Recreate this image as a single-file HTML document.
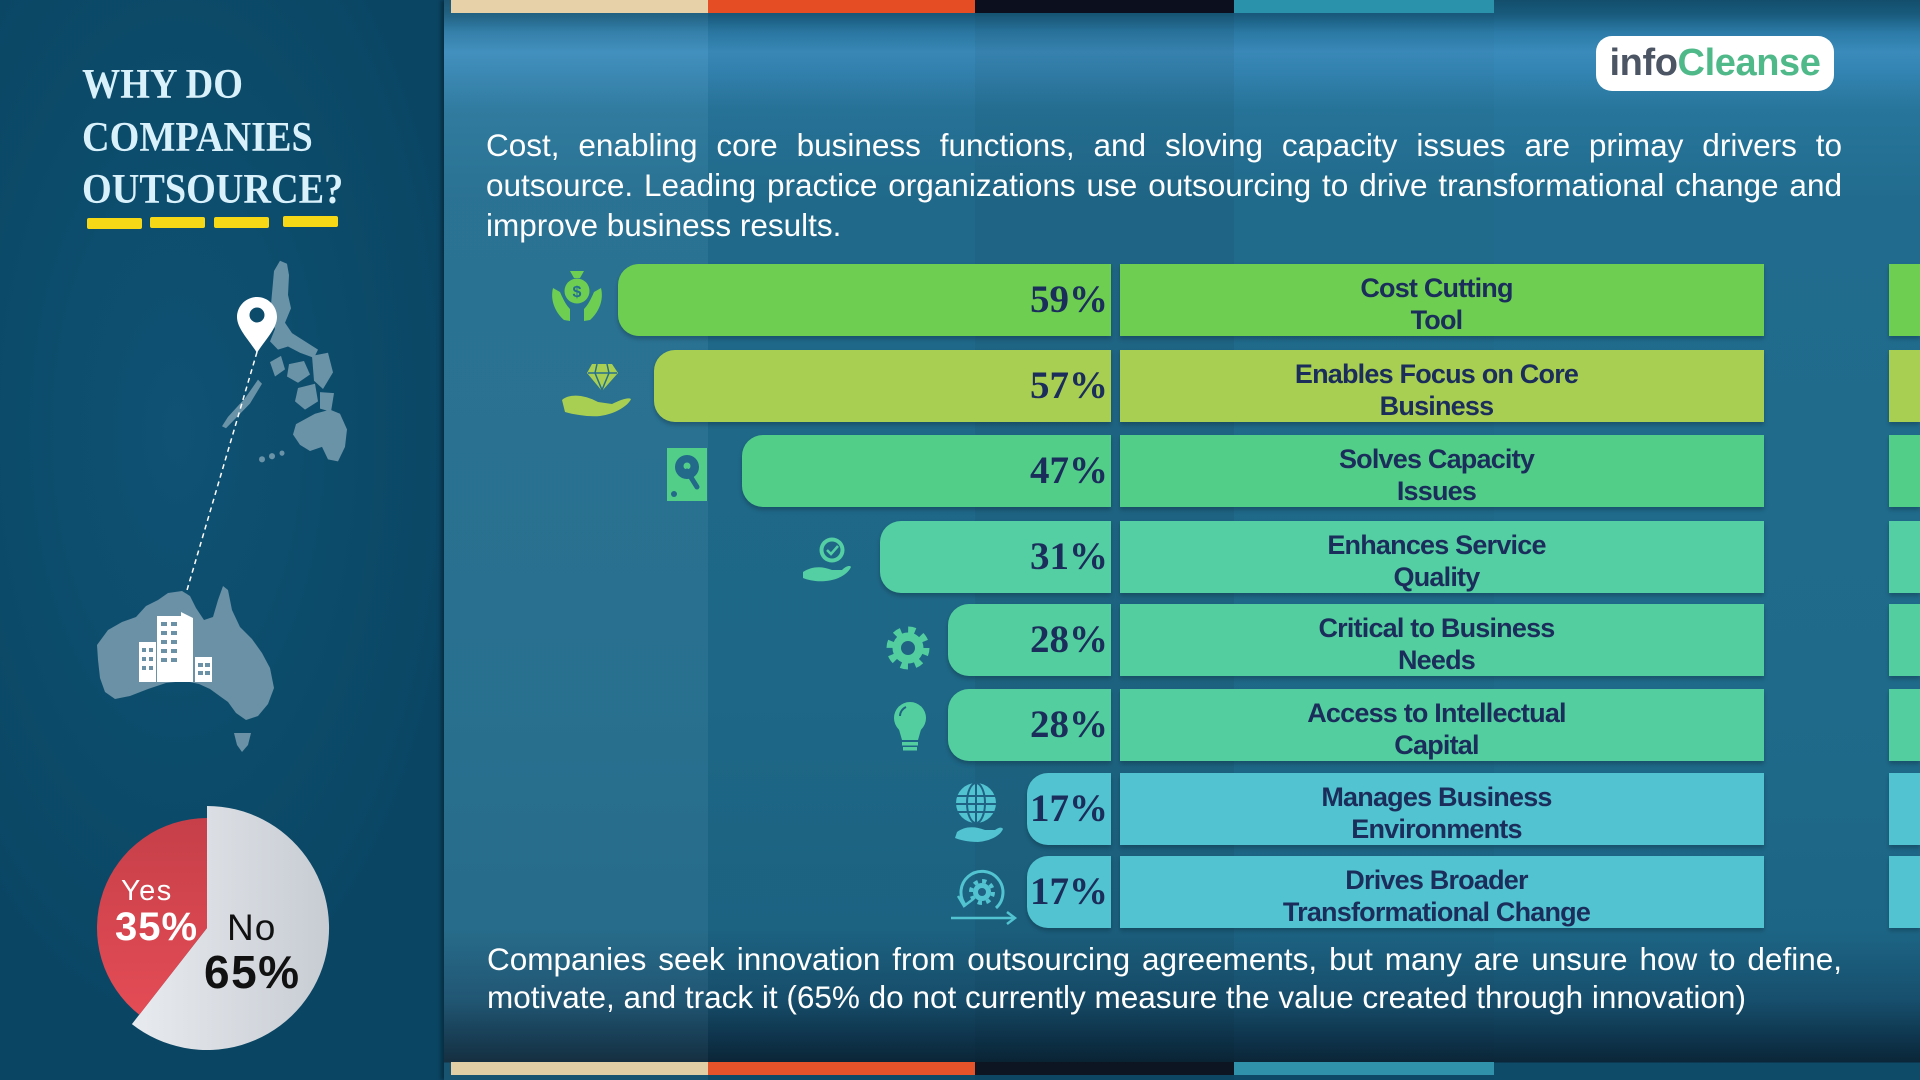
<!DOCTYPE html>
<html><head><meta charset="utf-8">
<style>
*{margin:0;padding:0;box-sizing:border-box}
html,body{width:1920px;height:1080px;overflow:hidden;background:#0c4a69}
body{position:relative;font-family:"Liberation Sans",sans-serif}
#left{position:absolute;left:0;top:0;width:444px;height:1080px;
 background:radial-gradient(ellipse 70% 60% at 40% 40%,#0f5274 0%,#0c4b6a 55%,#0a4563 100%);}
#main{position:absolute;left:444px;top:0;width:1476px;height:1080px;
 background:
 linear-gradient(to right,rgba(255,255,255,0.045) 0 264px,rgba(0,0,0,0.03) 264px 531px,rgba(0,0,0,0.07) 531px 790px,rgba(0,0,0,0.02) 790px 1050px,rgba(0,0,0,0) 1050px),
 linear-gradient(to bottom,#134e6c 0px,#185a7c 14px,#2b7aa6 32px,#3a8bbb 52px,#3384b2 72px,#27759b 110px,#216c8e 200px,#1f6a8a 700px,#1d6585 930px,#174f6d 1000px,#0e354d 1038px,#0b2638 1062px,#0e4b69 1063px,#0e4b69 1080px);
 box-shadow:-3px 0 4px rgba(0,0,0,0.35);}
.st{position:absolute;height:13px}
.title{position:absolute;left:82px;font-family:"Liberation Serif",serif;font-weight:bold;font-size:42px;color:#d9f1fb;line-height:42px;white-space:nowrap;transform:scaleX(0.91);transform-origin:left top}
.dash{position:absolute;height:11px;width:55px;background:#f6d817;border-radius:2px}
.para{position:absolute;color:#fff;font-size:31.5px;white-space:nowrap}
.jl{text-align:justify;text-align-last:justify}
.vb{position:absolute;height:72px;border-radius:21px 0 0 21px;box-shadow:0 3px 4px rgba(0,0,0,0.22)}
.pct{position:absolute;height:72px;line-height:72px;text-align:right;font-family:"Liberation Serif",serif;font-weight:bold;font-size:39px;color:#1b2d5b;white-space:nowrap}
.lb{position:absolute;left:1120px;width:644px;height:72px;box-shadow:0 3px 4px rgba(0,0,0,0.22);text-align:center;padding-top:8px;padding-right:11px;font-weight:bold;font-size:27px;line-height:32px;letter-spacing:-0.8px;color:#1b2d5b;white-space:nowrap}
.rs{position:absolute;left:1889px;width:31px;height:72px;box-shadow:0 3px 4px rgba(0,0,0,0.22)}
.logo{position:absolute;left:1596px;top:36px;width:238px;height:55px;background:#fff;border-radius:16px;text-align:center;font-weight:bold;font-size:38px;line-height:55px;letter-spacing:-0.4px}
</style></head><body>
<div id="left"></div>
<div id="main"></div>

<div class="st" style="left:451px;top:0;width:257px;background:#e6d1a8"></div>
<div class="st" style="left:708px;top:0;width:267px;background:#e54d24"></div>
<div class="st" style="left:975px;top:0;width:259px;background:#0b0f1e"></div>
<div class="st" style="left:1234px;top:0;width:260px;background:#2a93ab"></div>
<div class="st" style="left:451px;top:1062px;width:257px;background:#e3cfa5"></div>
<div class="st" style="left:708px;top:1062px;width:267px;background:#e4532a"></div>
<div class="st" style="left:975px;top:1062px;width:259px;background:#0d1422"></div>
<div class="st" style="left:1234px;top:1062px;width:260px;background:#3093ab"></div>

<div class="title" style="top:64px">WHY DO</div>
<div class="title" style="top:117px">COMPANIES</div>
<div class="title" style="top:169px">OUTSOURCE?</div>
<div class="dash" style="left:87px;top:218px"></div>
<div class="dash" style="left:150px;top:217px"></div>
<div class="dash" style="left:214px;top:217px"></div>
<div class="dash" style="left:283px;top:216px"></div>

<div class="logo"><span style="color:#4b5563">info</span><span style="color:#50b98a">Cleanse</span></div>

<div class="para jl" style="left:486px;top:125px;width:1356px;line-height:40px">Cost, enabling core business functions, and sloving capacity issues are primay drivers to</div>
<div class="para jl" style="left:486px;top:165px;width:1356px;line-height:40px">outsource. Leading practice organizations use outsourcing to drive transformational change and</div>
<div class="para" style="left:486px;top:205px;line-height:40px">improve business results.</div>

<div class="para jl" style="left:487px;top:940px;width:1355px;line-height:38px">Companies seek innovation from outsourcing agreements, but many are unsure how to define,</div>
<div class="para" style="left:487px;top:978px;line-height:38px">motivate, and track it (65% do not currently measure the value created through innovation)</div>

<div class="vb" style="left:618px;top:264px;width:493px;background:#6dce52"></div>
<div class="pct" style="left:618px;top:264px;width:490px">59%</div>
<div class="lb" style="top:264px;background:#6dce52">Cost Cutting<br>Tool</div>
<div class="rs" style="top:264px;background:#6dce52"></div>

<div class="vb" style="left:654px;top:350px;width:457px;background:#a9cf52"></div>
<div class="pct" style="left:654px;top:350px;width:454px">57%</div>
<div class="lb" style="top:350px;background:#a9cf52">Enables Focus on Core<br>Business</div>
<div class="rs" style="top:350px;background:#a9cf52"></div>

<div class="vb" style="left:742px;top:435px;width:369px;background:#52ce89"></div>
<div class="pct" style="left:742px;top:435px;width:366px">47%</div>
<div class="lb" style="top:435px;background:#52ce89">Solves Capacity<br>Issues</div>
<div class="rs" style="top:435px;background:#52ce89"></div>

<div class="vb" style="left:880px;top:521px;width:231px;background:#54cfa3"></div>
<div class="pct" style="left:880px;top:521px;width:228px">31%</div>
<div class="lb" style="top:521px;background:#54cfa3">Enhances Service<br>Quality</div>
<div class="rs" style="top:521px;background:#54cfa3"></div>

<div class="vb" style="left:948px;top:604px;width:163px;background:#53cf9f"></div>
<div class="pct" style="left:948px;top:604px;width:160px">28%</div>
<div class="lb" style="top:604px;background:#53cf9f">Critical to Business<br>Needs</div>
<div class="rs" style="top:604px;background:#53cf9f"></div>

<div class="vb" style="left:948px;top:689px;width:163px;background:#53cf9f"></div>
<div class="pct" style="left:948px;top:689px;width:160px">28%</div>
<div class="lb" style="top:689px;background:#53cf9f">Access to Intellectual<br>Capital</div>
<div class="rs" style="top:689px;background:#53cf9f"></div>

<div class="vb" style="left:1027px;top:773px;width:84px;background:#52c3d0"></div>
<div class="pct" style="left:1027px;top:773px;width:81px">17%</div>
<div class="lb" style="top:773px;background:#52c3d0">Manages Business<br>Environments</div>
<div class="rs" style="top:773px;background:#52c3d0"></div>

<div class="vb" style="left:1027px;top:856px;width:84px;background:#52c3d0"></div>
<div class="pct" style="left:1027px;top:856px;width:81px">17%</div>
<div class="lb" style="top:856px;background:#52c3d0">Drives Broader<br>Transformational Change</div>
<div class="rs" style="top:856px;background:#52c3d0"></div>

<svg width="1920" height="1080" viewBox="0 0 1920 1080" style="position:absolute;left:0;top:0" xmlns="http://www.w3.org/2000/svg">
<defs>
<linearGradient id="gr" x1="0" y1="0" x2="0" y2="1"><stop offset="0" stop-color="#c63f49"/><stop offset="1" stop-color="#e44c55"/></linearGradient>
<linearGradient id="gg" x1="0" y1="0" x2="1" y2="0"><stop offset="0" stop-color="#e8ebef"/><stop offset="1" stop-color="#c7ccd3"/></linearGradient>
</defs>
<g fill="#6b93a8" transform="matrix(1 0 0 1.0345 0 0)">
<path d="M274,262 L280,252 L287,255 L289,266 L288,285 L291,298 L285,312 L292,322 L305,330 L318,338 L314,346 L300,341 L288,335 L278,338 L270,330 L275,318 L270,305 Z"/>
<path d="M270,350 L281,344 L285,357 L275,364 Z"/>
<path d="M289,352 L304,349 L310,362 L298,370 L287,364 Z"/>
<path d="M312,344 L328,341 L333,360 L323,376 L314,368 Z"/>
<path d="M298,375 L315,371 L318,388 L305,396 L295,388 Z"/>
<path d="M320,379 L334,380 L331,398 L320,395 Z"/>
<path d="M296,410 L315,400 L330,396 L340,400 L347,415 L345,432 L338,446 L328,444 L322,432 L310,436 L300,430 L293,420 Z"/>
<path d="M222,412 L228,403 L245,385 L258,367 L262,371 L250,390 L235,405 L226,414 Z"/>
<circle cx="262" cy="444" r="3"/><circle cx="272" cy="441" r="3"/><circle cx="282" cy="438" r="2.5"/>
</g>
<line x1="257" y1="352" x2="180" y2="614" stroke="#ffffff" stroke-width="1.5" stroke-dasharray="5 4"/>
<path d="M257,353 C250,341 237,329 237,317 C237,306 246,297 257,297 C268,297 277,306 277,317 C277,329 264,341 257,353 Z" fill="#ffffff"/>
<circle cx="257" cy="315" r="7.5" fill="#0c4b6a"/>
<g fill="#6a91a6">
<path d="M97,645 L108,630 L122,622 L136,617 L146,606 L158,600 L168,593 L182,591 L190,596 L196,608 L204,620 L213,617 L218,600 L223,586 L228,590 L232,610 L240,627 L252,639 L262,653 L270,668 L274,688 L268,704 L258,716 L246,720 L236,713 L228,702 L221,697 L210,689 L199,684 L185,681 L166,683 L148,689 L130,696 L115,699 L105,692 L100,678 L98,660 Z"/>
<path d="M234,733 L251,733 L248,745 L242,752 L237,745 Z"/>
</g>
<g fill="#ffffff">
<rect x="157" y="616" width="24" height="66"/>
<path d="M181,612 L193,618 L193,682 L181,682 Z"/>
<rect x="139" y="642" width="17" height="40"/>
<rect x="195" y="657" width="17" height="25"/>
</g>
<g fill="#6a91a6">
<rect x="161" y="622" width="6" height="4"/><rect x="171" y="622" width="6" height="4"/>
<rect x="161" y="631" width="6" height="4"/><rect x="171" y="631" width="6" height="4"/>
<rect x="161" y="640" width="6" height="4"/><rect x="171" y="640" width="6" height="4"/>
<rect x="161" y="649" width="6" height="4"/><rect x="171" y="649" width="6" height="4"/>
<rect x="161" y="658" width="6" height="4"/><rect x="171" y="658" width="6" height="4"/>
<rect x="142" y="648" width="4" height="4"/><rect x="149" y="648" width="4" height="4"/>
<rect x="142" y="657" width="4" height="4"/><rect x="149" y="657" width="4" height="4"/>
<rect x="142" y="666" width="4" height="4"/><rect x="149" y="666" width="4" height="4"/>
<rect x="198" y="663" width="5" height="4"/><rect x="205" y="663" width="5" height="4"/>
<rect x="198" y="671" width="5" height="4"/><rect x="205" y="671" width="5" height="4"/>
</g>
<path d="M207,928 L207,806 A122,122 0 1 1 131.9,1024.1 Z" fill="url(#gg)"/>
<path d="M207,928 L139.3,1014.7 A110,110 0 0 1 207,818 Z" fill="url(#gr)"/>
<text x="121" y="900" font-family="Liberation Sans, sans-serif" font-size="29" fill="#ffffff" letter-spacing="1.5">Yes</text>
<text x="115" y="940" font-family="Liberation Sans, sans-serif" font-size="40" font-weight="bold" fill="#ffffff" letter-spacing="1">35%</text>
<text x="227" y="940" font-family="Liberation Sans, sans-serif" font-size="37" fill="#111111" letter-spacing="1">No</text>
<text x="204" y="988" font-family="Liberation Sans, sans-serif" font-size="46" font-weight="bold" fill="#111111" letter-spacing="1.5">65%</text>

<g fill="#6dce52">
<path d="M570,271 L584,271 L580,278 L574,278 Z"/>
<circle cx="577" cy="291" r="12.5"/>
<path d="M553,288 C550,300 555,312 564,320 L570,321 L570,309 C566,305 563,299 560,292 Z"/>
<path d="M601,288 C604,300 599,312 590,320 L584,321 L584,309 C588,305 591,299 594,292 Z"/>
</g>
<text x="577" y="297" text-anchor="middle" font-family="Liberation Sans, sans-serif" font-size="16" font-weight="bold" fill="#256f8e">$</text>
<g fill="#a9cf52">
<polygon points="592,364 612,364 618,373 602,391 587,373"/>
<path d="M562,400 C570,393 585,395 598,402 L612,404 C620,400 628,397 631,399 C628,406 615,414 600,416 C590,417 575,415 565,412 Z"/>
</g>
<g stroke="#256f8e" stroke-width="1.5" fill="none"><polyline points="588,373 617,373"/><polyline points="597,364 595,373 602,390 609,373 607,364"/></g>
<rect x="667" y="448" width="40" height="53" fill="#52ce89"/>
<circle cx="687" cy="467" r="12" fill="#22698a"/>
<circle cx="687" cy="466" r="3.5" fill="#52ce89"/>
<line x1="687" y1="471" x2="697" y2="487" stroke="#22698a" stroke-width="5" stroke-linecap="round"/>
<circle cx="674" cy="494" r="3" fill="#22698a"/>
<g fill="#54cfa3">
<circle cx="832" cy="550" r="12.5"/>
<path d="M803,572 C812,566 822,566 832,570 L842,570 C846,566 850,565 851,567 C848,574 838,580 826,581 C816,582 808,580 803,578 Z"/>
</g>
<circle cx="832" cy="550" r="8.5" fill="#1f6585"/>
<polyline points="827,550 831,554 838,546" fill="none" stroke="#54cfa3" stroke-width="2.5"/>
<circle cx="908" cy="648" r="15.5" fill="#53cf9f"/>
<circle cx="908" cy="648" r="18" fill="none" stroke="#53cf9f" stroke-width="7" stroke-dasharray="7 7.14"/>
<circle cx="908" cy="648" r="7" fill="#1f6283"/>
<g fill="#53cf9f">
<circle cx="910" cy="718" r="16"/>
<polygon points="898,726 922,726 918,740 902,740"/>
<rect x="902" y="742" width="16" height="3.5"/>
<rect x="903" y="747" width="14" height="3.5"/>
</g>
<path d="M900,716 A10,10 0 0 1 906,707" fill="none" stroke="#1f6283" stroke-width="2"/>
<circle cx="976" cy="803" r="20" fill="#52c3d0"/>
<g stroke="#1f6283" stroke-width="2" fill="none">
<line x1="957" y1="796" x2="995" y2="796"/><line x1="956" y1="804" x2="996" y2="804"/><line x1="957" y1="812" x2="995" y2="812"/>
<line x1="976" y1="783" x2="976" y2="823"/><ellipse cx="976" cy="803" rx="9" ry="20"/>
</g>
<path d="M957,832 C965,826 975,826 985,830 L995,830 C999,827 1002,827 1003,829 C1000,836 990,841 978,842 C968,842 960,840 955,838 Z" fill="#52c3d0"/>
<path d="M966,906 A21,21 0 1 1 996,908" fill="none" stroke="#52c3d0" stroke-width="3"/>
<polyline points="958,896 964,906 972,900" fill="none" stroke="#52c3d0" stroke-width="2.5"/>
<circle cx="982" cy="892" r="9" fill="#52c3d0"/>
<circle cx="982" cy="892" r="11" fill="none" stroke="#52c3d0" stroke-width="4" stroke-dasharray="4.3 4.3"/>
<circle cx="982" cy="892" r="4" fill="#1f6283"/>
<line x1="951" y1="918" x2="1014" y2="918" stroke="#52c3d0" stroke-width="2.5"/>
<polyline points="1007,912 1015,918 1007,924" fill="none" stroke="#52c3d0" stroke-width="2.5"/>
</svg>
</body></html>
